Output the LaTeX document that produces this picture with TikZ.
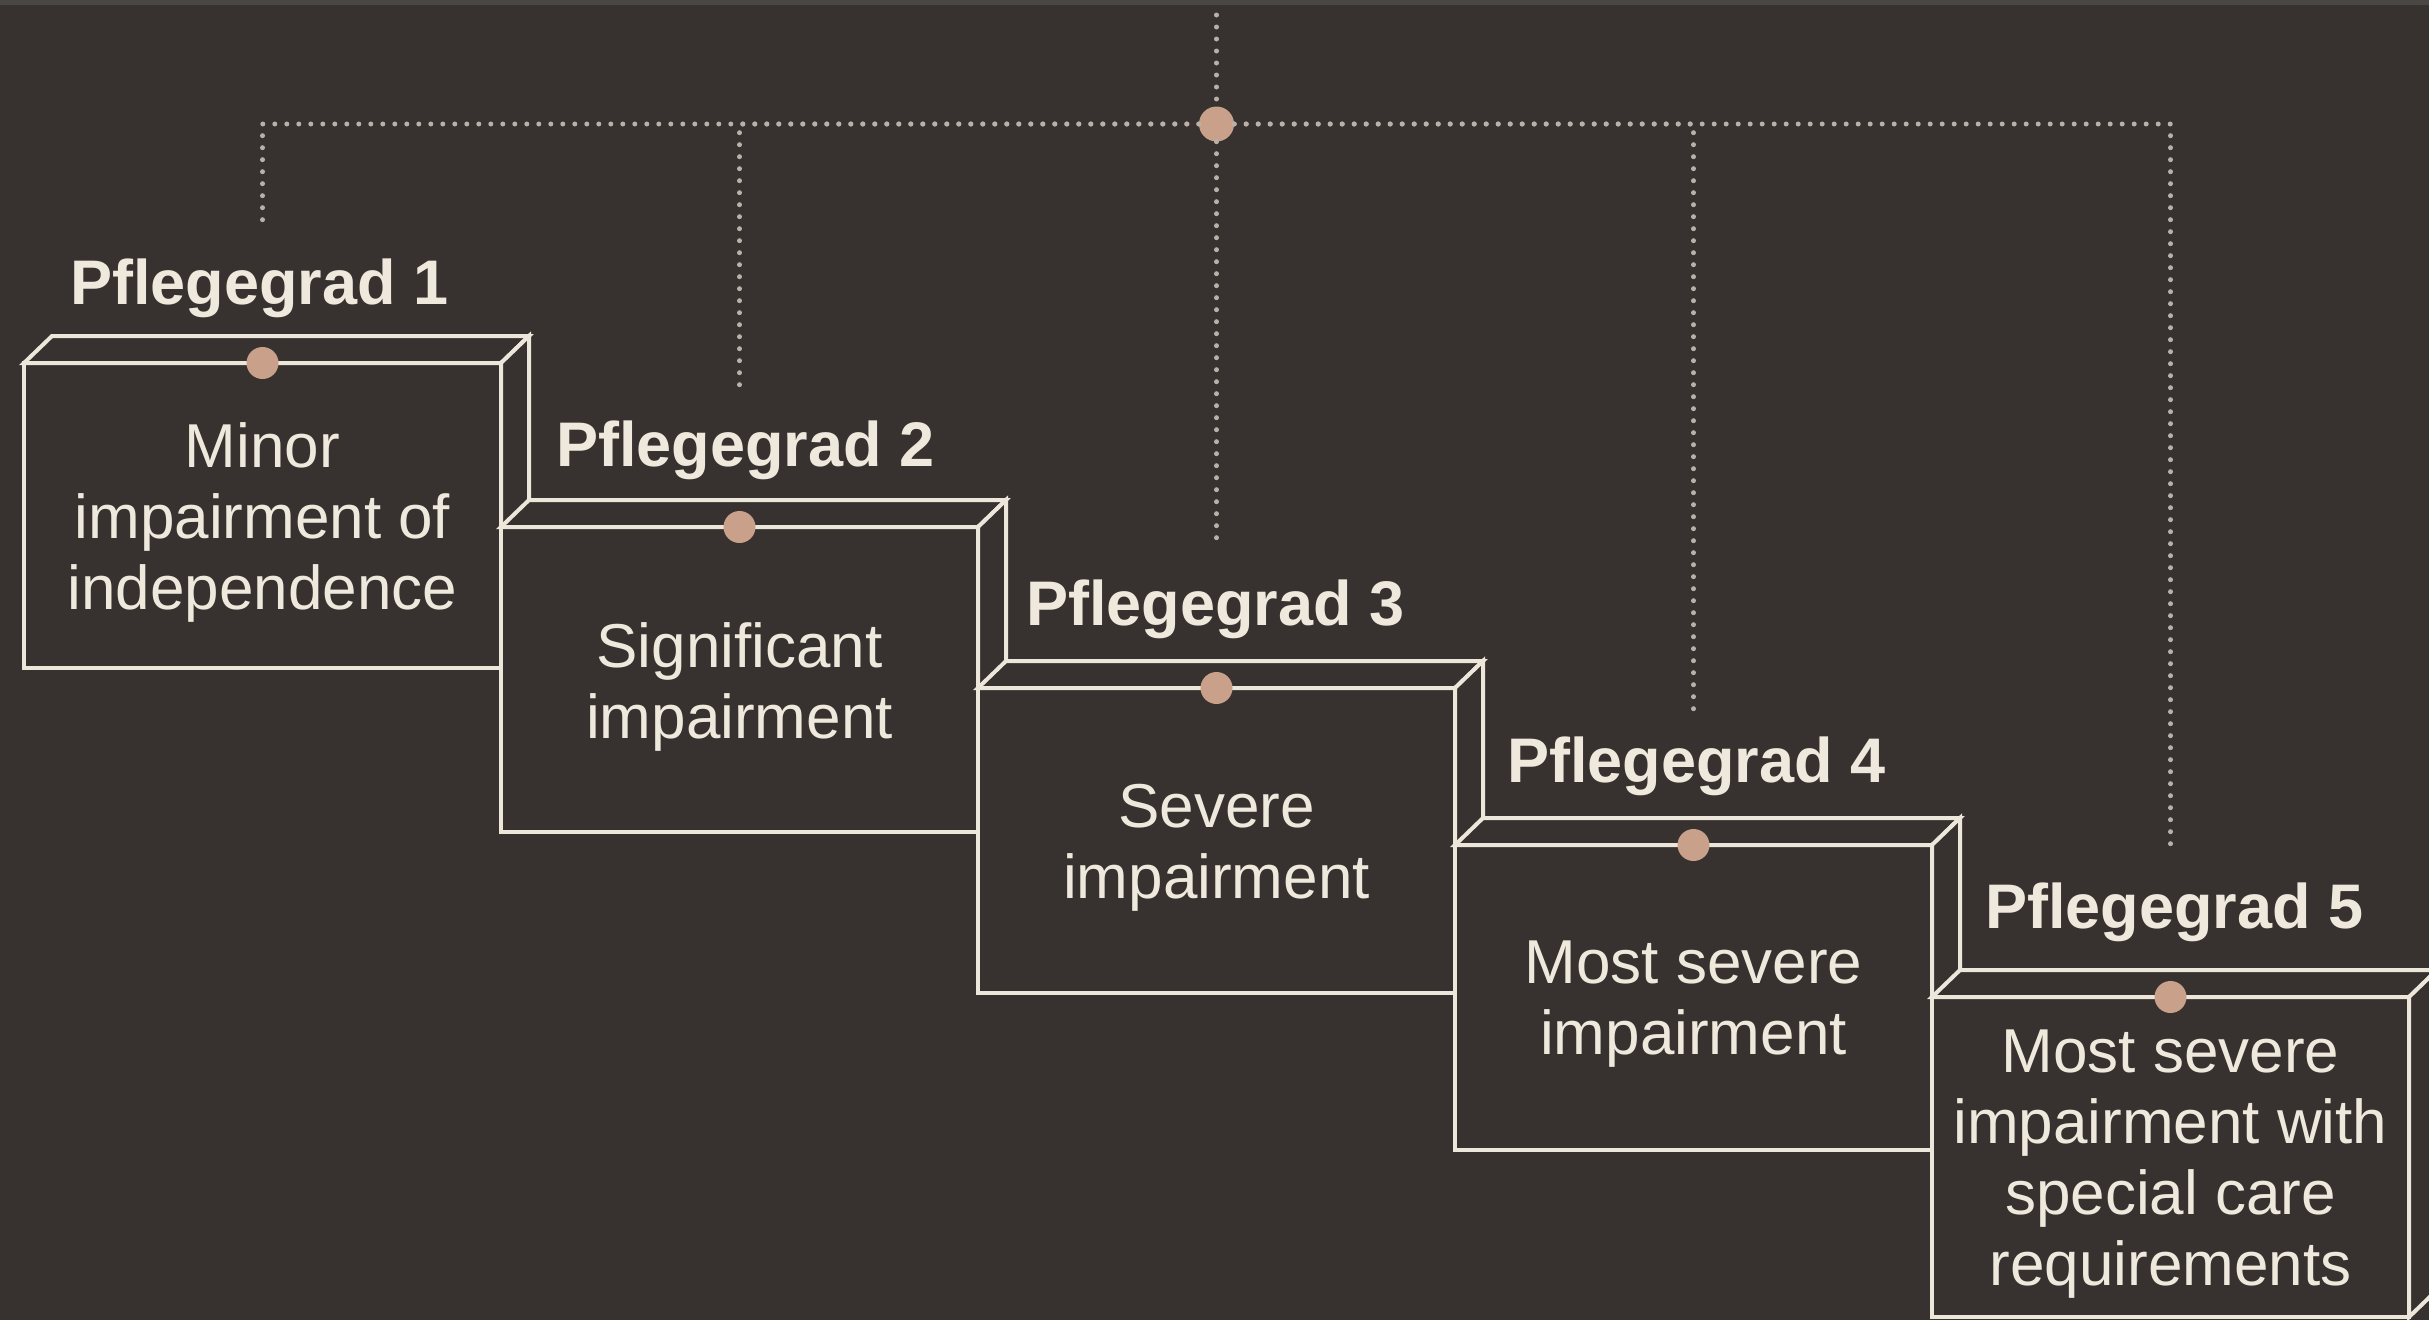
\documentclass[tikz,border=0pt]{standalone}
\usepackage{fontspec}
\setmainfont{Liberation Sans}
\usetikzlibrary{calc}
\definecolor{bgc}{HTML}{37322F}
\definecolor{stripc}{HTML}{4A4643}
\definecolor{linec}{HTML}{EDE6DA}
\definecolor{txtc}{HTML}{EFE8DC}
\definecolor{dotc}{HTML}{C9A08A}
\definecolor{dotlc}{HTML}{B9B1A9}
\newcommand\bodyfnt{\fontsize{62}{71}\selectfont}
\newcommand\labfnt{\fontsize{63}{72}\selectfont\bfseries}
\begin{document}
\begin{tikzpicture}[x=1pt,y=-1pt,
  face/.style={draw=linec,fill=bgc,line width=4pt,line join=miter},
  frontbox/.style={face,rectangle,anchor=north west,inner sep=0pt,outer sep=0pt,
    minimum width=477pt,minimum height=305pt},
  boxtext/.style={inner sep=0pt,align=center,text=txtc,font=\bodyfnt,yshift=-7pt},
  lab/.style={anchor=base west,inner sep=0pt,text=txtc,font=\labfnt},
  knob/.style={circle,fill=dotc,inner sep=0pt,minimum size=32pt},
  dotline/.style={draw=dotlc,line width=5pt,line cap=round,dash pattern=on 0pt off 12pt}
]
\useasboundingbox (0,0) rectangle (2429,1320);
\fill[bgc] (0,0) rectangle (2429,1320);
\fill[stripc] (0,0) rectangle (2429,5);
\begin{scope}
\clip (0,0) rectangle (2429,1320);
% Box 1
\node[frontbox] (b1) at (24,363) {};
\filldraw[face] (b1.north west) -- ++(28,-27) -- ++(477,0) -- (b1.north east) -- cycle;
\filldraw[face] (b1.north east) -- ++(28,-27) -- ++(0,305) -- (b1.south east) -- cycle;
\node[knob] (k1) at (b1.north) {};
\node[boxtext] (t1) at (b1.center) {Minor\\impairment of\\independence};
% Box 2
\node[frontbox] (b2) at (501,527) {};
\filldraw[face] (b2.north west) -- ++(28,-27) -- ++(477,0) -- (b2.north east) -- cycle;
\filldraw[face] (b2.north east) -- ++(28,-27) -- ++(0,305) -- (b2.south east) -- cycle;
\node[knob] (k2) at (b2.north) {};
\node[boxtext] (t2) at (b2.center) {Significant\\impairment};
% Box 3
\node[frontbox] (b3) at (978,688) {};
\filldraw[face] (b3.north west) -- ++(28,-27) -- ++(477,0) -- (b3.north east) -- cycle;
\filldraw[face] (b3.north east) -- ++(28,-27) -- ++(0,305) -- (b3.south east) -- cycle;
\node[knob] (k3) at (b3.north) {};
\node[boxtext] (t3) at (b3.center) {Severe\\impairment};
% Box 4
\node[frontbox] (b4) at (1455,845) {};
\filldraw[face] (b4.north west) -- ++(28,-27) -- ++(477,0) -- (b4.north east) -- cycle;
\filldraw[face] (b4.north east) -- ++(28,-27) -- ++(0,305) -- (b4.south east) -- cycle;
\node[knob] (k4) at (b4.north) {};
\node[boxtext] (t4) at (b4.center) {Most severe\\impairment};
% Box 5
\node[frontbox,minimum height=320pt] (b5) at (1932,997) {};
\filldraw[face] (b5.north west) -- ++(28,-27) -- ++(477,0) -- (b5.north east) -- cycle;
\filldraw[face] (b5.north east) -- ++(28,-27) -- ++(0,320) -- (b5.south east) -- cycle;
\node[knob] (k5) at (b5.north) {};
\node[boxtext] (t5) at (b5.center) {Most severe\\impairment with\\special care\\requirements};
\end{scope}
% Labels
\node[lab] (l1) at (70,304) {Pflegegrad 1};
\node[lab] (l2) at (556,466) {Pflegegrad 2};
\node[lab] (l3) at (1026,625) {Pflegegrad 3};
\node[lab] (l4) at (1507,782) {Pflegegrad 4};
\node[lab] (l5) at (1985,928) {Pflegegrad 5};
% Dotted connectors
\coordinate (top) at (b3.north |- 0,15);
\coordinate (e1) at (b1.north |- 0,223);
\coordinate (e2) at (b2.north |- 0,388);
\coordinate (e3) at (b3.north |- 0,545);
\coordinate (e4) at (b4.north |- 0,711);
\coordinate (e5) at (b5.north |- 0,853);
\node[knob,minimum size=35pt] (hub) at (b3.north |- 0,124) {};
\draw[dotline] (top) -- (hub);
\draw[dotline] (hub) -- (e3);
\draw[dotline] (hub) -| (e1);
\draw[dotline] (hub) -| (e2);
\draw[dotline] (hub) -| (e4);
\draw[dotline] (hub) -| (e5);
\end{tikzpicture}
\end{document}
